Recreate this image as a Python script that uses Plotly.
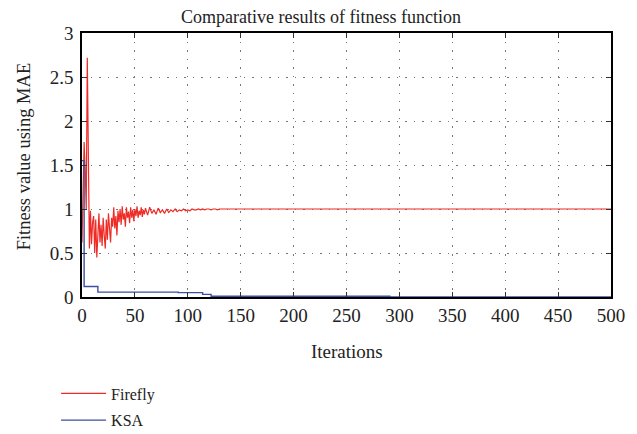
import plotly.graph_objects as go

# Firefly fitness (MAE) per iteration
ff_iter = list(range(0, 61)) + list(range(62, 152, 2)) + [200, 300, 400, 500]
ff_vals = [0.62, 1.20, 1.76, 1.45, 1.00, 2.72, 1.30, 0.55, 0.98, 0.60,
           0.85, 0.92, 0.50, 0.88, 0.45, 0.75, 0.95, 0.62, 0.82, 0.58,
           0.90, 0.70, 0.55, 0.88, 0.65, 0.95, 0.72, 0.62, 0.90, 0.80,
           1.02, 0.78, 0.92, 0.70, 0.98, 0.85, 1.00, 0.82, 1.03, 0.88,
           0.95, 0.80, 1.02, 0.90, 0.97, 0.84, 1.02, 0.90, 0.99, 0.86,
           1.00, 0.92, 1.03, 0.90, 0.98, 0.93, 1.02, 0.91, 0.99, 0.94,
           1.01,
           0.93, 1.02, 0.95, 0.99, 0.94, 1.01, 0.96, 0.99, 0.95, 1.00,
           0.96, 0.99, 0.97, 1.00, 0.97, 0.99, 0.98, 1.00, 0.98, 0.99,
           0.98, 1.00, 0.99, 0.99, 1.00, 0.99, 1.00, 0.99, 1.00, 1.00,
           0.99, 1.00, 1.00, 0.99, 1.00, 1.00, 1.00, 1.00, 1.00, 1.00,
           1.00, 1.00, 1.00, 1.00, 1.00,
           1.00, 1.00, 1.00, 1.00]

# KSA best fitness (step curve)
ksa_iter = [0, 2, 15, 91, 114, 122, 290, 291, 500]
ksa_vals = [1.55, 0.12, 0.055, 0.05, 0.03, 0.008, 0.008, 0.0, 0.0]

x_ticks = list(range(0, 501, 50))
y_ticks = [0, 0.5, 1, 1.5, 2, 2.5, 3]
y_tick_text = ["0", "0.5", "1", "1.5", "2", "2.5", "3"]

FONT = "Liberation Serif"

fig = go.Figure()
fig.add_trace(go.Scatter(x=ff_iter, y=ff_vals, mode="lines", name="Firefly",
                         legendgroup="a",
                         line=dict(color="#ee2b26", width=1.2)))
fig.add_trace(go.Scatter(x=ksa_iter, y=ksa_vals, mode="lines", name="KSA",
                         legendgroup="b",
                         line=dict(color="#3d4fa1", width=1.4, shape="hv")))

axis_common = dict(showline=True, linecolor="black", linewidth=1.5, mirror="ticks",
                   ticks="inside", ticklen=5, tickcolor="#333", showgrid=True,
                   gridcolor="#777", griddash="1.5px,7px", gridwidth=1.2, zeroline=False,
                   automargin=False,
                   tickfont=dict(family=FONT, size=19, color="#222"))

fig.update_layout(
    width=637, height=434,
    margin=dict(l=82, r=26, t=33, b=137, autoexpand=False),
    paper_bgcolor="white", plot_bgcolor="white",
    font=dict(family=FONT, size=16, color="#222"),
    title=dict(text="Comparative results of fitness function", x=0.504, xanchor="center",
               xref="container", y=0.975, yanchor="top",
               font=dict(family=FONT, size=18, color="#222")),
    xaxis=dict(range=[0, 500], tickvals=x_ticks, **axis_common),
    yaxis=dict(range=[0, 3], tickvals=y_ticks, ticktext=y_tick_text,
               ticklabelstandoff=3, **axis_common),
    legend=dict(x=-0.049, xanchor="left", y=-0.301, yanchor="top",
                font=dict(family=FONT, size=16, color="#222"), itemwidth=45,
                bgcolor="rgba(0,0,0,0)", tracegroupgap=3),
    showlegend=True,
    annotations=[
        dict(text="Iterations", xref="paper", yref="paper", x=0.5, y=-0.205,
             xanchor="center", yanchor="middle", showarrow=False,
             font=dict(family=FONT, size=19, color="#222")),
        dict(text="Fitness value using MAE", xref="paper", yref="paper",
             x=-0.11, y=0.532, xanchor="center", yanchor="middle", textangle=-90,
             showarrow=False, font=dict(family=FONT, size=18.5, color="#222")),
    ],
)

fig.write_html("out.html")
